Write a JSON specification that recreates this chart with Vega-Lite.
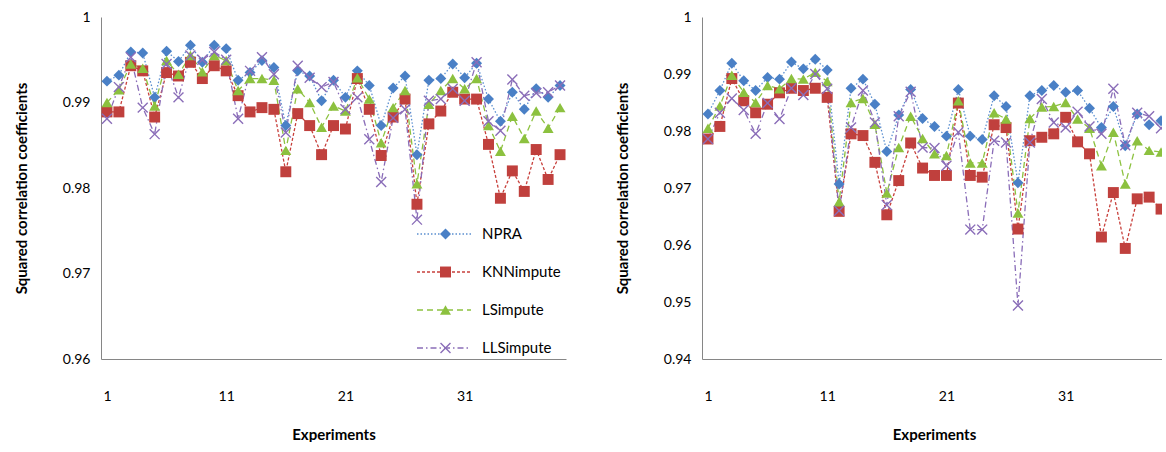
{
  "$schema": "https://vega.github.io/schema/vega-lite/v6.json",
  "background": "white",
  "autosize": {"type": "pad"},
  "padding": {"left": 14, "top": 10, "right": 0, "bottom": 0},
  "config": {
    "font": "Lato",
    "view": {"stroke": null},
    "axis": {
      "grid": false,
      "ticks": false,
      "domainColor": "#868686",
      "domainWidth": 1,
      "labelFont": "Lato",
      "labelFontSize": 14,
      "labelColor": "#000000",
      "labelFlush": false,
      "titleFont": "Lato",
      "titleFontSize": 15,
      "titleFontWeight": "bold",
      "titleColor": "#000000"
    },
    "legend": {"labelFont": "Lato", "labelFontSize": 15, "labelColor": "#000000"}
  },
  "datasets": {
    "left": [
      {"exp": 1, "NPRA": 0.9925, "KNNimpute": 0.9889, "LSimpute": 0.9900, "LLSimpute": 0.9881},
      {"exp": 2, "NPRA": 0.9932, "KNNimpute": 0.9889, "LSimpute": 0.9915, "LLSimpute": 0.9918},
      {"exp": 3, "NPRA": 0.9959, "KNNimpute": 0.9943, "LSimpute": 0.9945, "LLSimpute": 0.9953},
      {"exp": 4, "NPRA": 0.9958, "KNNimpute": 0.9937, "LSimpute": 0.9940, "LLSimpute": 0.9894},
      {"exp": 5, "NPRA": 0.9906, "KNNimpute": 0.9883, "LSimpute": 0.9896, "LLSimpute": 0.9863},
      {"exp": 6, "NPRA": 0.9960, "KNNimpute": 0.9935, "LSimpute": 0.9949, "LLSimpute": 0.9945},
      {"exp": 7, "NPRA": 0.9948, "KNNimpute": 0.9931, "LSimpute": 0.9933, "LLSimpute": 0.9906},
      {"exp": 8, "NPRA": 0.9967, "KNNimpute": 0.9947, "LSimpute": 0.9955, "LLSimpute": 0.9955},
      {"exp": 9, "NPRA": 0.9947, "KNNimpute": 0.9928, "LSimpute": 0.9936, "LLSimpute": 0.9950},
      {"exp": 10, "NPRA": 0.9967, "KNNimpute": 0.9943, "LSimpute": 0.9955, "LLSimpute": 0.9959},
      {"exp": 11, "NPRA": 0.9963, "KNNimpute": 0.9937, "LSimpute": 0.9949, "LLSimpute": 0.9950},
      {"exp": 12, "NPRA": 0.9926, "KNNimpute": 0.9908, "LSimpute": 0.9914, "LLSimpute": 0.9881},
      {"exp": 13, "NPRA": 0.9935, "KNNimpute": 0.9889, "LSimpute": 0.9928, "LLSimpute": 0.9937},
      {"exp": 14, "NPRA": 0.9949, "KNNimpute": 0.9894, "LSimpute": 0.9928, "LLSimpute": 0.9953},
      {"exp": 15, "NPRA": 0.9941, "KNNimpute": 0.9892, "LSimpute": 0.9926, "LLSimpute": 0.9933},
      {"exp": 16, "NPRA": 0.9873, "KNNimpute": 0.9819, "LSimpute": 0.9844, "LLSimpute": 0.9865},
      {"exp": 17, "NPRA": 0.9937, "KNNimpute": 0.9887, "LSimpute": 0.9916, "LLSimpute": 0.9943},
      {"exp": 18, "NPRA": 0.9931, "KNNimpute": 0.9873, "LSimpute": 0.9900, "LLSimpute": 0.9929},
      {"exp": 19, "NPRA": 0.9902, "KNNimpute": 0.9839, "LSimpute": 0.9871, "LLSimpute": 0.9918},
      {"exp": 20, "NPRA": 0.9926, "KNNimpute": 0.9873, "LSimpute": 0.9896, "LLSimpute": 0.9924},
      {"exp": 21, "NPRA": 0.9906, "KNNimpute": 0.9869, "LSimpute": 0.9890, "LLSimpute": 0.9892},
      {"exp": 22, "NPRA": 0.9937, "KNNimpute": 0.9928, "LSimpute": 0.9929, "LLSimpute": 0.9906},
      {"exp": 23, "NPRA": 0.9920, "KNNimpute": 0.9892, "LSimpute": 0.9904, "LLSimpute": 0.9857},
      {"exp": 24, "NPRA": 0.9873, "KNNimpute": 0.9838, "LSimpute": 0.9853, "LLSimpute": 0.9807},
      {"exp": 25, "NPRA": 0.9917, "KNNimpute": 0.9883, "LSimpute": 0.9894, "LLSimpute": 0.9882},
      {"exp": 26, "NPRA": 0.9931, "KNNimpute": 0.9904, "LSimpute": 0.9914, "LLSimpute": 0.9892},
      {"exp": 27, "NPRA": 0.9839, "KNNimpute": 0.9781, "LSimpute": 0.9805, "LLSimpute": 0.9763},
      {"exp": 28, "NPRA": 0.9926, "KNNimpute": 0.9875, "LSimpute": 0.9898, "LLSimpute": 0.9902},
      {"exp": 29, "NPRA": 0.9928, "KNNimpute": 0.9890, "LSimpute": 0.9914, "LLSimpute": 0.9904},
      {"exp": 30, "NPRA": 0.9945, "KNNimpute": 0.9912, "LSimpute": 0.9928, "LLSimpute": 0.9916},
      {"exp": 31, "NPRA": 0.9929, "KNNimpute": 0.9904, "LSimpute": 0.9916, "LLSimpute": 0.9902},
      {"exp": 32, "NPRA": 0.9946, "KNNimpute": 0.9904, "LSimpute": 0.9928, "LLSimpute": 0.9947},
      {"exp": 33, "NPRA": 0.9904, "KNNimpute": 0.9851, "LSimpute": 0.9873, "LLSimpute": 0.9878},
      {"exp": 34, "NPRA": 0.9878, "KNNimpute": 0.9788, "LSimpute": 0.9843, "LLSimpute": 0.9867},
      {"exp": 35, "NPRA": 0.9912, "KNNimpute": 0.9820, "LSimpute": 0.9884, "LLSimpute": 0.9927},
      {"exp": 36, "NPRA": 0.9892, "KNNimpute": 0.9796, "LSimpute": 0.9858, "LLSimpute": 0.9908},
      {"exp": 37, "NPRA": 0.9916, "KNNimpute": 0.9845, "LSimpute": 0.9890, "LLSimpute": 0.9911},
      {"exp": 38, "NPRA": 0.9906, "KNNimpute": 0.9810, "LSimpute": 0.9870, "LLSimpute": 0.9912},
      {"exp": 39, "NPRA": 0.9920, "KNNimpute": 0.9839, "LSimpute": 0.9894, "LLSimpute": 0.9920}
    ],
    "right": [
      {"exp": 1, "NPRA": 0.9830, "KNNimpute": 0.9786, "LSimpute": 0.9805, "LLSimpute": 0.9786},
      {"exp": 2, "NPRA": 0.9871, "KNNimpute": 0.9808, "LSimpute": 0.9844, "LLSimpute": 0.9832},
      {"exp": 3, "NPRA": 0.9919, "KNNimpute": 0.9892, "LSimpute": 0.9898, "LLSimpute": 0.9857},
      {"exp": 4, "NPRA": 0.9888, "KNNimpute": 0.9853, "LSimpute": 0.9868, "LLSimpute": 0.9837},
      {"exp": 5, "NPRA": 0.9871, "KNNimpute": 0.9832, "LSimpute": 0.9850, "LLSimpute": 0.9795},
      {"exp": 6, "NPRA": 0.9894, "KNNimpute": 0.9847, "LSimpute": 0.9880, "LLSimpute": 0.9849},
      {"exp": 7, "NPRA": 0.9891, "KNNimpute": 0.9867, "LSimpute": 0.9874, "LLSimpute": 0.9821},
      {"exp": 8, "NPRA": 0.9921, "KNNimpute": 0.9875, "LSimpute": 0.9892, "LLSimpute": 0.9875},
      {"exp": 9, "NPRA": 0.9909, "KNNimpute": 0.9871, "LSimpute": 0.9891, "LLSimpute": 0.9863},
      {"exp": 10, "NPRA": 0.9926, "KNNimpute": 0.9875, "LSimpute": 0.9903, "LLSimpute": 0.9900},
      {"exp": 11, "NPRA": 0.9907, "KNNimpute": 0.9859, "LSimpute": 0.9887, "LLSimpute": 0.9874},
      {"exp": 12, "NPRA": 0.9707, "KNNimpute": 0.9659, "LSimpute": 0.9676, "LLSimpute": 0.9660},
      {"exp": 13, "NPRA": 0.9875, "KNNimpute": 0.9795, "LSimpute": 0.9850, "LLSimpute": 0.9806},
      {"exp": 14, "NPRA": 0.9891, "KNNimpute": 0.9792, "LSimpute": 0.9857, "LLSimpute": 0.9871},
      {"exp": 15, "NPRA": 0.9847, "KNNimpute": 0.9745, "LSimpute": 0.9812, "LLSimpute": 0.9815},
      {"exp": 16, "NPRA": 0.9764, "KNNimpute": 0.9653, "LSimpute": 0.9691, "LLSimpute": 0.9670},
      {"exp": 17, "NPRA": 0.9828, "KNNimpute": 0.9713, "LSimpute": 0.9771, "LLSimpute": 0.9826},
      {"exp": 18, "NPRA": 0.9873, "KNNimpute": 0.9779, "LSimpute": 0.9826, "LLSimpute": 0.9869},
      {"exp": 19, "NPRA": 0.9822, "KNNimpute": 0.9735, "LSimpute": 0.9787, "LLSimpute": 0.9771},
      {"exp": 20, "NPRA": 0.9808, "KNNimpute": 0.9722, "LSimpute": 0.9760, "LLSimpute": 0.9770},
      {"exp": 21, "NPRA": 0.9791, "KNNimpute": 0.9722, "LSimpute": 0.9757, "LLSimpute": 0.9739},
      {"exp": 22, "NPRA": 0.9873, "KNNimpute": 0.9849, "LSimpute": 0.9853, "LLSimpute": 0.9798},
      {"exp": 23, "NPRA": 0.9791, "KNNimpute": 0.9722, "LSimpute": 0.9744, "LLSimpute": 0.9627},
      {"exp": 24, "NPRA": 0.9785, "KNNimpute": 0.9719, "LSimpute": 0.9744, "LLSimpute": 0.9627},
      {"exp": 25, "NPRA": 0.9862, "KNNimpute": 0.9811, "LSimpute": 0.9832, "LLSimpute": 0.9783},
      {"exp": 26, "NPRA": 0.9843, "KNNimpute": 0.9806, "LSimpute": 0.9821, "LLSimpute": 0.9780},
      {"exp": 27, "NPRA": 0.9709, "KNNimpute": 0.9628, "LSimpute": 0.9656, "LLSimpute": 0.9494},
      {"exp": 28, "NPRA": 0.9862, "KNNimpute": 0.9783, "LSimpute": 0.9822, "LLSimpute": 0.9780},
      {"exp": 29, "NPRA": 0.9871, "KNNimpute": 0.9789, "LSimpute": 0.9842, "LLSimpute": 0.9856},
      {"exp": 30, "NPRA": 0.9880, "KNNimpute": 0.9795, "LSimpute": 0.9843, "LLSimpute": 0.9815},
      {"exp": 31, "NPRA": 0.9868, "KNNimpute": 0.9824, "LSimpute": 0.9850, "LLSimpute": 0.9806},
      {"exp": 32, "NPRA": 0.9871, "KNNimpute": 0.9781, "LSimpute": 0.9821, "LLSimpute": 0.9834},
      {"exp": 33, "NPRA": 0.9840, "KNNimpute": 0.9760, "LSimpute": 0.9805, "LLSimpute": 0.9808},
      {"exp": 34, "NPRA": 0.9806, "KNNimpute": 0.9614, "LSimpute": 0.9739, "LLSimpute": 0.9795},
      {"exp": 35, "NPRA": 0.9843, "KNNimpute": 0.9692, "LSimpute": 0.9798, "LLSimpute": 0.9874},
      {"exp": 36, "NPRA": 0.9774, "KNNimpute": 0.9594, "LSimpute": 0.9707, "LLSimpute": 0.9775},
      {"exp": 37, "NPRA": 0.9830, "KNNimpute": 0.9681, "LSimpute": 0.9783, "LLSimpute": 0.9832},
      {"exp": 38, "NPRA": 0.9811, "KNNimpute": 0.9684, "LSimpute": 0.9766, "LLSimpute": 0.9826},
      {"exp": 39, "NPRA": 0.9818, "KNNimpute": 0.9663, "LSimpute": 0.9763, "LLSimpute": 0.9805}
    ]
  },
  "spacing": 49,
  "resolve": {
    "scale": {"x": "independent", "y": "independent", "stroke": "independent", "strokeDash": "independent", "fill": "independent", "shape": "independent"},
    "legend": {"stroke": "independent", "strokeDash": "independent", "fill": "independent", "shape": "independent"}
  },
  "hconcat": [
    {
      "width": 465,
      "height": 342,
      "data": {"name": "left"},
      "transform": [{"fold": ["NPRA", "KNNimpute", "LSimpute", "LLSimpute"], "as": ["series", "r2"]}],
      "encoding": {
        "x": {"field": "exp", "type": "quantitative", "title": "Experiments",
              "scale": {"domain": [0.5, 39.5], "nice": false, "zero": false},
              "axis": {"values": [1, 11, 21, 31], "format": "d", "labelPadding": 30, "titlePadding": 24}},
        "y": {"field": "r2", "type": "quantitative", "title": "Squared correlation coefficients",
              "scale": {"domain": [0.96, 1], "nice": false, "zero": false},
              "axis": {"values": [0.96, 0.97, 0.98, 0.99, 1], "format": "~g", "labelPadding": 11, "titlePadding": 33}}
      },
      "layer": [
        {
          "mark": {"type": "line", "strokeWidth": 1.3},
          "encoding": {
            "stroke": {"field": "series", "type": "nominal",
                       "scale": {"domain": ["NPRA", "KNNimpute", "LSimpute", "LLSimpute"], "range": ["#5B8FD0", "#C8403C", "#8DC240", "#8A6DB8"]},
                       "legend": {"orient": "none", "legendX": 315, "legendY": 207, "title": null, "padding": 0,
                                  "symbolType": "stroke", "symbolSize": 2916, "symbolStrokeWidth": 1.3,
                                  "clipHeight": 20, "rowPadding": 18, "labelOffset": 10,
                                  "values": ["NPRA", "KNNimpute", "LSimpute", "LLSimpute"]}},
            "strokeDash": {"field": "series", "type": "nominal",
                           "scale": {"domain": ["NPRA", "KNNimpute", "LSimpute", "LLSimpute"], "range": [[1.5, 2], [3, 2], [6, 4], [6, 3, 1.5, 3]]},
                           "legend": {"orient": "none", "legendX": 315, "legendY": 207, "title": null, "padding": 0,
                                      "symbolType": "stroke", "symbolSize": 2916, "symbolStrokeWidth": 1.3,
                                      "clipHeight": 20, "rowPadding": 18, "labelOffset": 10,
                                      "values": ["NPRA", "KNNimpute", "LSimpute", "LLSimpute"]}}
          }
        },
        {
          "mark": {"type": "point", "filled": true, "opacity": 1, "size": 120, "strokeWidth": 0},
          "encoding": {
            "fill": {"field": "series", "type": "nominal",
                     "scale": {"domain": ["KNNimpute", "NPRA", "LSimpute", "LLSimpute"], "range": ["#C0403D", "#4A80C6", "#8CC13F", "#8A6DB8"]},
                     "legend": {"orient": "none", "legendX": 337, "legendY": 207, "title": null, "padding": 0,
                                "symbolSize": 120, "clipHeight": 20, "rowPadding": 18, "labelExpr": "''",
                                "values": ["NPRA", "KNNimpute", "LSimpute", "LLSimpute"]}},
            "shape": {"field": "series", "type": "nominal",
                      "scale": {"domain": ["KNNimpute", "NPRA", "LSimpute", "LLSimpute"],
                                "range": ["square", "diamond", "triangle-up", "M-1,-0.82L-0.82,-1L0,-0.18L0.82,-1L1,-0.82L0.18,0L1,0.82L0.82,1L0,0.18L-0.82,1L-1,0.82L-0.18,0Z"]},
                      "legend": {"orient": "none", "legendX": 337, "legendY": 207, "title": null, "padding": 0,
                                 "symbolSize": 120, "clipHeight": 20, "rowPadding": 18, "labelExpr": "''",
                                 "values": ["NPRA", "KNNimpute", "LSimpute", "LLSimpute"]}}
          }
        }
      ]
    },
    {
      "width": 460,
      "height": 342,
      "data": {"name": "right"},
      "transform": [{"fold": ["NPRA", "KNNimpute", "LSimpute", "LLSimpute"], "as": ["series", "r2"]}],
      "encoding": {
        "x": {"field": "exp", "type": "quantitative", "title": "Experiments",
              "scale": {"domain": [0.5, 39.08], "nice": false, "zero": false},
              "axis": {"values": [1, 11, 21, 31], "format": "d", "labelPadding": 30, "titlePadding": 24, "titleX": 232}},
        "y": {"field": "r2", "type": "quantitative", "title": "Squared correlation coefficients",
              "scale": {"domain": [0.94, 1], "nice": false, "zero": false},
              "axis": {"values": [0.94, 0.95, 0.96, 0.97, 0.98, 0.99, 1], "format": "~g", "labelPadding": 11, "titlePadding": 33}}
      },
      "layer": [
        {
          "mark": {"type": "line", "strokeWidth": 1.3, "clip": true},
          "encoding": {
            "stroke": {"field": "series", "type": "nominal", "legend": null,
                       "scale": {"domain": ["NPRA", "KNNimpute", "LSimpute", "LLSimpute"], "range": ["#5B8FD0", "#C8403C", "#8DC240", "#8A6DB8"]}},
            "strokeDash": {"field": "series", "type": "nominal", "legend": null,
                           "scale": {"domain": ["NPRA", "KNNimpute", "LSimpute", "LLSimpute"], "range": [[1.5, 2], [3, 2], [6, 4], [6, 3, 1.5, 3]]}}
          }
        },
        {
          "mark": {"type": "point", "filled": true, "opacity": 1, "size": 120, "strokeWidth": 0, "clip": true},
          "encoding": {
            "fill": {"field": "series", "type": "nominal", "legend": null,
                     "scale": {"domain": ["KNNimpute", "NPRA", "LSimpute", "LLSimpute"], "range": ["#C0403D", "#4A80C6", "#8CC13F", "#8A6DB8"]}},
            "shape": {"field": "series", "type": "nominal", "legend": null,
                      "scale": {"domain": ["KNNimpute", "NPRA", "LSimpute", "LLSimpute"],
                                "range": ["square", "diamond", "triangle-up", "M-1,-0.82L-0.82,-1L0,-0.18L0.82,-1L1,-0.82L0.18,0L1,0.82L0.82,1L0,0.18L-0.82,1L-1,0.82L-0.18,0Z"]}}
          }
        }
      ]
    }
  ]
}
